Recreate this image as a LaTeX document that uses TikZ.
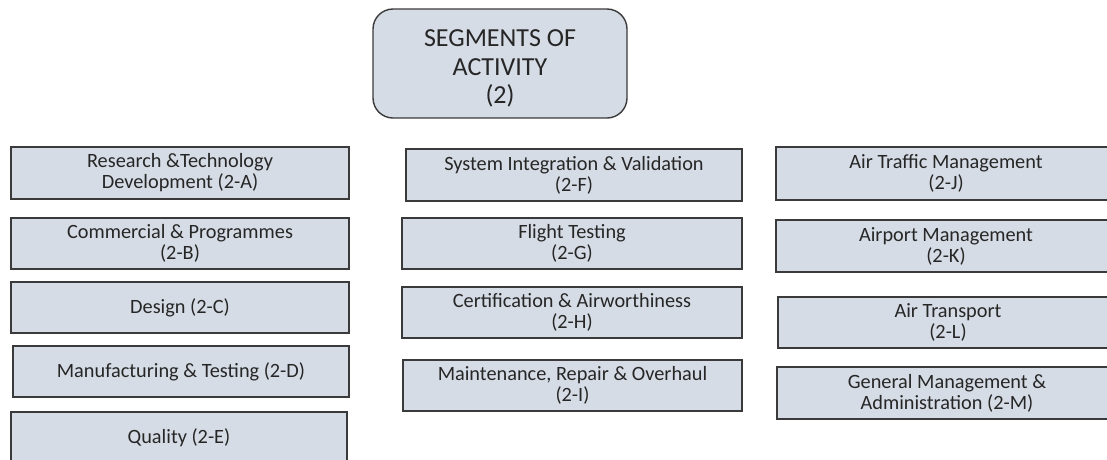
\documentclass[tikz,border=0pt]{standalone}
\usepackage{fontspec}
\setmainfont{Carlito}
\definecolor{boxfill}{HTML}{D6DCE5}
\definecolor{boxline}{HTML}{3A3A3A}
\definecolor{txt}{HTML}{262626}
\begin{document}
\begin{tikzpicture}[x=1pt,y=-1pt,
  seg/.style={draw=boxline, line width=1.4pt, fill=boxfill, text=txt, align=center,
    inner sep=0pt, font=\fontsize{20.3}{21}\selectfont},
  topbox/.style={draw=boxline, line width=1.4pt, fill=boxfill,
    rounded corners=20pt, inner sep=0pt, minimum width=254pt, minimum height=109pt},
  toptxt/.style={text=txt, align=center, inner sep=0pt,
    font=\fontsize{26}{28.5}\selectfont}]
\useasboundingbox (0,0) rectangle (1107,459);
\clip (0,0) rectangle (1107,459);
\node[topbox] (top) at (500,63.5) {};
\node[toptxt] (toptext) at ([yshift=-5pt]top.center) {SEGMENTS OF\\ACTIVITY\\(2)};
% left column
\node[seg, minimum width=338pt, minimum height=52pt] (a) at (180,173) {Research \&Technology\\Development (2-A)};
\node[seg, minimum width=338pt, minimum height=51pt] (b) at (180,243.5) {Commercial \& Programmes\\(2-B)};
\node[seg, minimum width=338pt, minimum height=51pt] (c) at (180,307.5) {Design (2-C)};
\node[seg, minimum width=336pt, minimum height=51pt] (d) at (181,371.5) {Manufacturing \& Testing (2-D)};
\node[seg, minimum width=336pt, minimum height=51pt] (e) at (179,437.5) {Quality (2-E)};
% middle column
\node[seg, minimum width=336pt, minimum height=52pt] (f) at (574,175) {System Integration \& Validation\\(2-F)};
\node[seg, minimum width=340pt, minimum height=51pt] (g) at (572,243.5) {Flight Testing\\(2-G)};
\node[seg, minimum width=340pt, minimum height=51pt] (h) at (572,312.5) {Certification \& Airworthiness\\(2-H)};
\node[seg, minimum width=339pt, minimum height=51pt] (i) at (572.5,385.5) {Maintenance, Repair \& Overhaul\\(2-I)};
% right column
\node[seg, minimum width=340pt, minimum height=53pt] (j) at (946,173.5) {Air Traffic Management\\(2-J)};
\node[seg, minimum width=340pt, minimum height=52pt] (k) at (946,246) {Airport Management\\(2-K)};
\node[seg, minimum width=340pt, minimum height=51pt] (l) at (948,322.5) {Air Transport\\(2-L)};
\node[seg, minimum width=340pt, minimum height=52pt] (m) at (947,393) {General Management \&\\Administration (2-M)};
\end{tikzpicture}
\end{document}
